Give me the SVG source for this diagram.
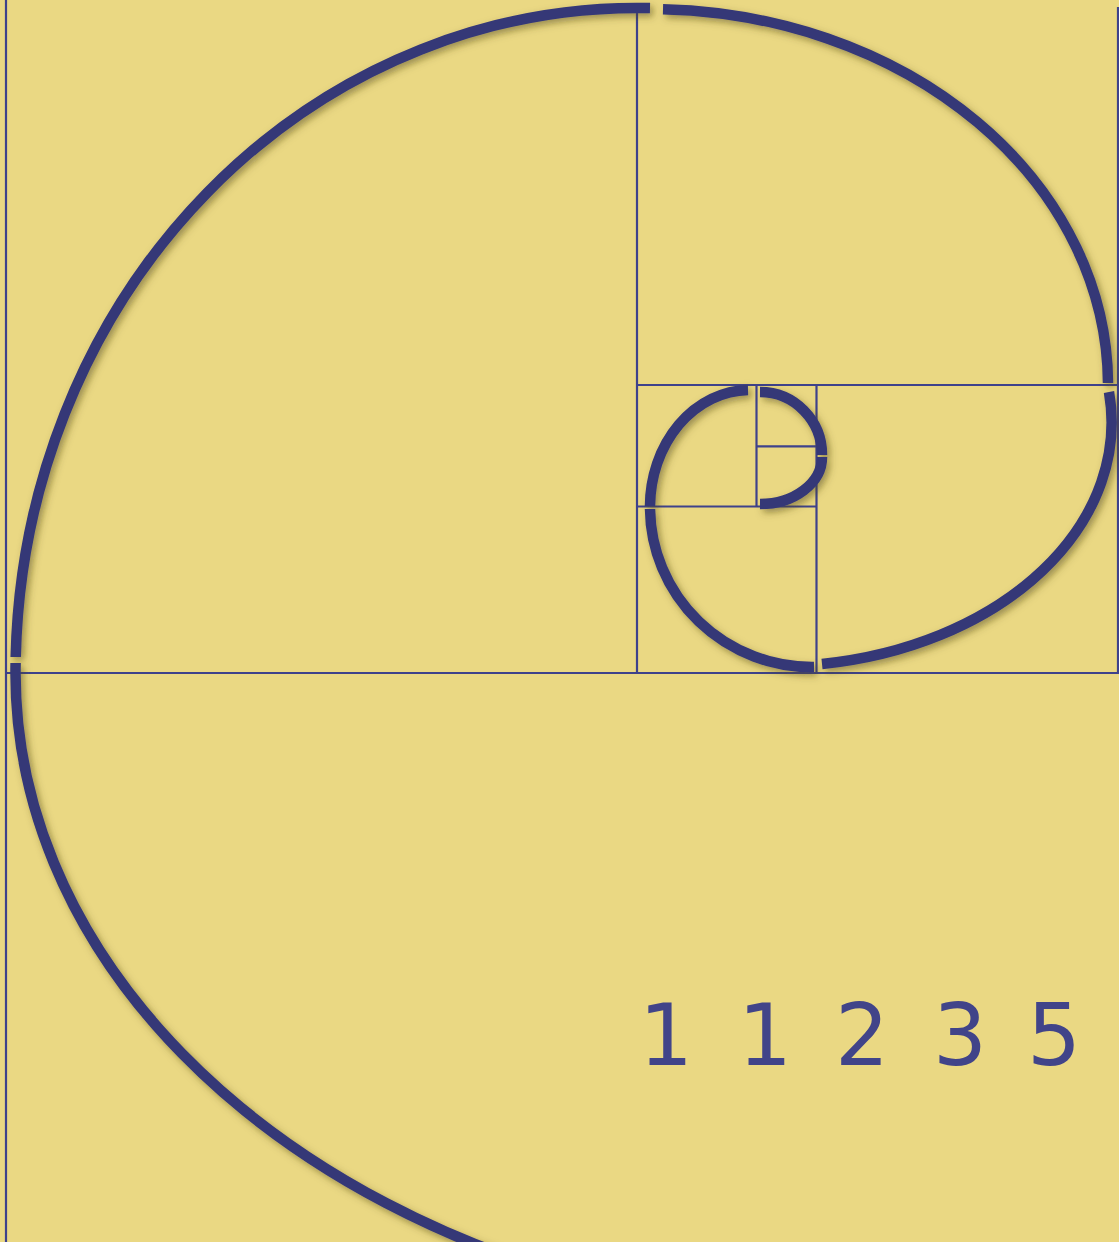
<svg xmlns="http://www.w3.org/2000/svg" width="1119" height="1242" viewBox="0 0 1119 1242">
  <defs>
    <filter id="sh" x="-20%" y="-20%" width="140%" height="140%">
      <feDropShadow dx="3" dy="3.5" stdDeviation="3.5" flood-color="#4a4018" flood-opacity="0.5"/>
    </filter>
    <filter id="lsh" x="-5%" y="-50%" width="110%" height="400%">
      <feDropShadow dx="0" dy="1.5" stdDeviation="0.6" flood-color="#777" flood-opacity="0.6"/>
    </filter>
  </defs>
  <style>
    .grid { stroke: #3e428b; stroke-width: 2.2; fill: none; }
    .arc { stroke: #343877; stroke-width: 10.5; fill: none; stroke-linecap: butt; }
    .num { font-family: "DejaVu Sans", Verdana, sans-serif; font-size: 85px; fill: #414489; }
  </style>
  <rect id="background" x="0" y="0" width="1119" height="1242" fill="#EAD883"/>

  <g id="grid">
    <line class="grid" x1="6" y1="7" x2="1119" y2="7" stroke-width="3.6" filter="url(#lsh)"/>
    <line class="grid" x1="6" y1="0" x2="6" y2="1242"/>
    <line class="grid" x1="1118" y1="7" x2="1118" y2="673"/>
    <line class="grid" x1="6" y1="673" x2="1119" y2="673"/>
    <line class="grid" x1="637" y1="7" x2="637" y2="673"/>
    <line class="grid" x1="637" y1="385" x2="1119" y2="385"/>
    <line class="grid" x1="816.5" y1="385" x2="816.5" y2="673"/>
    <line class="grid" x1="637" y1="506.5" x2="816.5" y2="506.5"/>
    <line class="grid" x1="756.5" y1="385" x2="756.5" y2="506.5"/>
    <line class="grid" x1="756.5" y1="446.3" x2="816.5" y2="446.3"/>
  </g>

  <g id="spiral" filter="url(#sh)">
    <path id="arc-h" class="arc" d="M 15.6,663 A 880 650 0 0 0 631,1293"/>
    <path id="arc-g" class="arc" d="M 650,8.1 A 621.5 665 0 0 0 15.7,657"/>
    <path id="arc-f" class="arc" d="M 663,9.2 A 458 376 0 0 1 1108,383"/>
    <path id="arc-e" class="arc" d="M 822,664 A 336.5 244 0 0 0 1109,392"/>
    <path id="arc-d" class="arc" d="M 650,509 A 162 160 0 0 0 814,667"/>
    <path id="arc-c" class="arc" d="M 748,390 A 100 117 0 0 0 650,506"/>
    <path id="arc-b" class="arc" d="M 760,392 A 62 63 0 0 1 822,455"/>
    <path id="arc-a" class="arc" d="M 822,457 A 62 47 0 0 1 760,504"/>
  </g>

  <g id="numbers">
    <text class="num" y="1065"><tspan x="639">1</tspan> <tspan x="738">1</tspan> <tspan x="835">2</tspan> <tspan x="933">3</tspan> <tspan x="1027">5</tspan></text>
  </g>
</svg>
